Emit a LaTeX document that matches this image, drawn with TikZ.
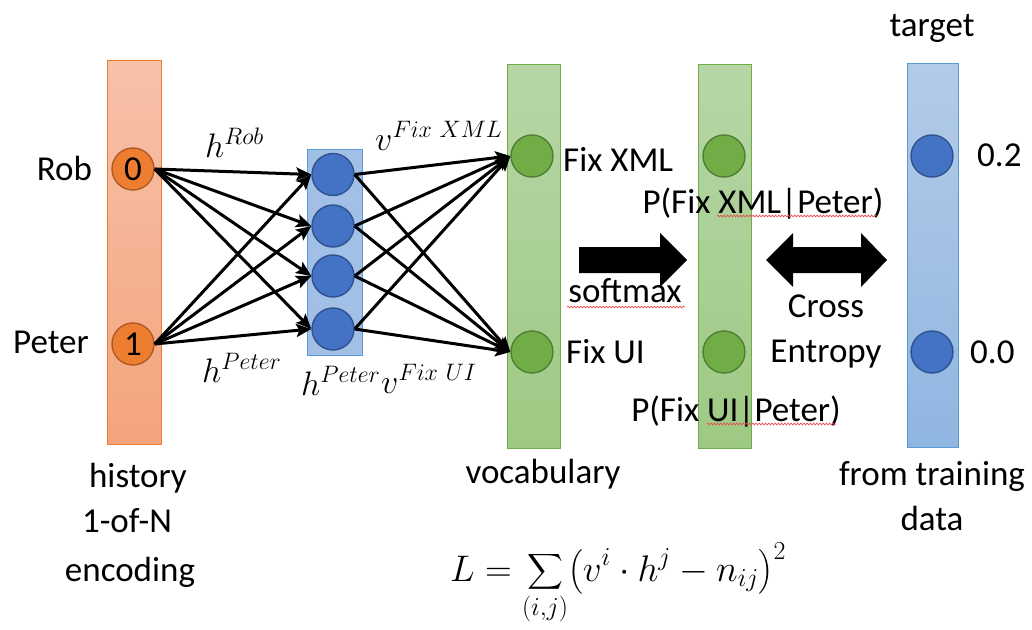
\RequirePackage{fix-cm}
\documentclass[tikz,border=0pt]{standalone}
\usepackage{exscale}
\usepackage[no-math]{fontspec}
\setmainfont{Carlito}
\usetikzlibrary{arrows.meta,decorations.pathmorphing}

% palette
\definecolor{orTop}{RGB}{247,193,170}
\definecolor{orBot}{RGB}{244,164,125}
\definecolor{orEdge}{RGB}{237,125,49}
\definecolor{orFill}{RGB}{237,125,49}
\definecolor{orLine}{RGB}{174,90,33}
\definecolor{grTop}{RGB}{183,214,167}
\definecolor{grBot}{RGB}{158,201,131}
\definecolor{grEdge}{RGB}{112,173,71}
\definecolor{grFill}{RGB}{112,173,71}
\definecolor{grLine}{RGB}{80,126,50}
\definecolor{blTop}{RGB}{180,203,232}
\definecolor{blBot}{RGB}{143,182,225}
\definecolor{blEdge}{RGB}{91,155,213}
\definecolor{blBox}{RGB}{162,192,230}
\definecolor{blFill}{RGB}{68,114,196}
\definecolor{blLine}{RGB}{47,82,143}
\definecolor{spell}{RGB}{235,80,80}

\begin{document}
\begin{tikzpicture}[x=1pt,y=-1pt,
  txt/.style={inner sep=0pt, font=\fontsize{35}{42}\selectfont},
  mlabel/.style={inner sep=0pt, font=\fontsize{34}{40}\selectfont},
  unit/.style={circle, minimum size=42pt, inner sep=0pt, line width=1.4pt},
  inunit/.style={unit, fill=orFill, draw=orLine, font=\fontsize{35}{42}\selectfont},
  hidunit/.style={unit, fill=blFill, draw=blLine},
  outunit/.style={unit, fill=grFill, draw=grLine},
  tgtunit/.style={unit, fill=blFill, draw=blLine},
  wire/.style={line width=3pt, -{Stealth[length=15pt,width=13pt,inset=3pt]}},
  squiggle/.style={spell, line width=0.7pt, decorate,
    decoration={snake, amplitude=0.9pt, segment length=3.2pt}}]
\useasboundingbox (0,0) rectangle (1032,629);

% layer columns
\path[draw=orEdge, line width=1pt, top color=orTop, bottom color=orBot]
  (107,60) rectangle (161,444);
\path[draw=grEdge, line width=1pt, top color=grTop, bottom color=grBot]
  (507,64) rectangle (560,448);
\path[draw=grEdge, line width=1pt, top color=grTop, bottom color=grBot]
  (698,64) rectangle (751,448);
\path[draw=blEdge, line width=1pt, top color=blTop, bottom color=blBot]
  (907,63) rectangle (958,447);
\path[draw=blEdge, line width=1pt, fill=blBox] (307,149) rectangle (362,355);

% units
\node[inunit] (rob)   at (133,169) {0};
\node[inunit] (peter) at (133,344) {1};
\node[hidunit] (h1) at (333,174.5) {};
\node[hidunit] (h2) at (333,226) {};
\node[hidunit] (h3) at (333,276) {};
\node[hidunit] (h4) at (333,329) {};
\node[outunit] (fx) at (532,156) {};
\node[outunit] (fu) at (532,352) {};
\node[outunit] (px) at (724,156) {};
\node[outunit] (pu) at (724,352) {};
\node[tgtunit] (tx) at (932,156) {};
\node[tgtunit] (tu) at (932,352) {};

% weights
\foreach \s in {rob,peter}
  \foreach \t in {h1,h2,h3,h4}
    \draw[wire] (\s.east) -- (\t.west);
\foreach \s in {h1,h2,h3,h4}
  \foreach \t in {fx,fu}
    \draw[wire] (\s.east) -- (\t.west);

% block arrows
\fill (579,247) -- (660,247) -- (660,233) -- (687,260) -- (660,287)
  -- (660,273) -- (579,273) -- cycle;
\fill (766,260) -- (793,233) -- (793,247) -- (861,247) -- (861,233)
  -- (887,260) -- (861,287) -- (861,273) -- (793,273) -- (793,287) -- cycle;

% word labels
\node[txt, anchor=base] (lrob)   at (64.5,180) {Rob};
\node[txt, anchor=base] (lpeter) at (51,353) {Peter};
\node[txt, anchor=base west] (lfx) at (563,171) {Fix XML};
\node[txt, anchor=base west] (lfu) at (566,363) {Fix UI};
\node[txt, anchor=base west] (ltx) at (977,166) {0.2};
\node[txt, anchor=base west] (ltu) at (970,363) {0.0};
\node[txt, anchor=base] (ltarget) at (932,36) {target};
\node[txt, anchor=base] (lpx) at (763,213) {P(Fix XML|Peter)};
\node[txt, anchor=base] (lpu) at (736,421) {P(Fix UI|Peter)};
\node[txt, anchor=base] (lsoft) at (625,302) {softmax};
\node[txt, anchor=base] (lcross) at (826,317) {Cross};
\node[txt, anchor=base] (lentropy) at (826,362) {Entropy};
\node[txt, anchor=base] (lhist) at (138,487) {history};
\node[txt, anchor=base] (lone) at (127,532) {1-of-N};
\node[txt, anchor=base] (lenc) at (130,581) {encoding};
\node[txt, anchor=base] (lvoc) at (543,483) {vocabulary};
\node[txt, anchor=base] (lfrom) at (932,485) {from training};
\node[txt, anchor=base] (ldata) at (932,530) {data};

% spelling marks
\draw[squiggle] (567,307) -- (685,307);
\draw[squiggle] (717,216) -- (877,216);
\draw[squiggle] (707,424) -- (836,424);

% weight vector labels
\node[mlabel, anchor=base west] (mhrob) at (205,157) {$h^{Rob}$};
\node[mlabel, anchor=base west] (mvfx) at (375,150) {$v^{Fix\ XML}$};
\node[mlabel, anchor=base west] (mhpeter) at (202,382) {$h^{Peter}$};
\node[mlabel, anchor=base west] (mhpeter2) at (301,395) {$h^{Peter}$};
\node[mlabel, anchor=base west] (mvfu) at (381,393) {$v^{Fix\ UI}$};

% loss
\node[inner sep=0pt, anchor=base west, font=\fontsize{37}{44}\selectfont] (loss)
  at (450,581) {$\displaystyle L=\sum_{(i,j)}\bigl(v^i\cdot h^j-n_{ij}\bigr)^2$};
\end{tikzpicture}
\end{document}
